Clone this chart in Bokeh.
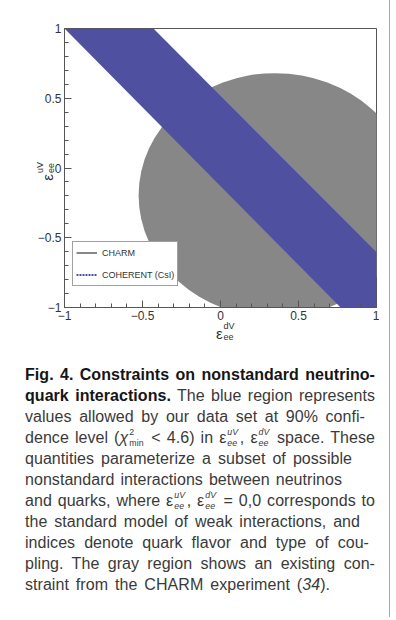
import math
from bokeh.plotting import figure
from bokeh.models import (Range1d, FixedTicker, CustomJSTickFormatter,
                          Legend, LegendItem, Div)
from bokeh.layouts import column
from bokeh.embed import file_html
from bokeh.resources import INLINE

# ---------------- data ----------------
# CHARM allowed region: a disc in (eps_dV, eps_uV) space
charm_center_dV = 0.35
charm_center_uV = -0.195
charm_radius = 0.875

# COHERENT (CsI) 90% CL band, clipped to the plotted window
coherent_band_dV = [-1.0, -0.43, 1.0, 1.0, 0.77]
coherent_band_uV = [1.0, 1.0, -0.604, -1.0, -1.0]

major_ticks = [-1.0, -0.5, 0.0, 0.5, 1.0]
minor_ticks = [-1.0, -0.9, -0.8, -0.7, -0.6, -0.5, -0.4, -0.3, -0.2, -0.1, 0.0,
               0.1, 0.2, 0.3, 0.4, 0.5, 0.6, 0.7, 0.8, 0.9, 1.0]
legend_labels = ["CHARM", "COHERENT (CsI)"]
x_title = ("dV", "ee")
y_title = ("uV", "ee")

FONT = "Liberation Sans"
GRAY = "#878787"
BLUE = "#5050A0"
AXC = "#555555"
TXT = "#333333"

W, H = 379, 330

p = figure(width=W, height=H, x_range=Range1d(-1, 1), y_range=Range1d(-1, 1),
           output_backend="svg", toolbar_location=None,
           min_border_left=64, min_border_right=W - 64 - 312,
           min_border_top=28, min_border_bottom=H - 28 - 279)
p.grid.visible = False
p.background_fill_color = "white"
p.border_fill_color = "white"
p.outline_line_color = AXC
p.outline_line_width = 1

p.ellipse(x=[charm_center_dV], y=[charm_center_uV], width=[2 * charm_radius],
          height=[2 * charm_radius], fill_color=GRAY, line_color=None)
p.patch(coherent_band_dV, coherent_band_uV, fill_color=BLUE, line_color=None)

fmt_code = "return (tick < 0 ? '\u2212' : '') + Math.abs(tick).toString();"
for ax in (p.xaxis[0], p.yaxis[0]):
    ax.ticker = FixedTicker(ticks=major_ticks, minor_ticks=minor_ticks)
    ax.formatter = CustomJSTickFormatter(code=fmt_code)
    ax.major_tick_in = 7
    ax.major_tick_out = 0
    ax.minor_tick_in = 4
    ax.minor_tick_out = 0
    ax.axis_line_color = AXC
    ax.major_tick_line_color = AXC
    ax.minor_tick_line_color = AXC
    ax.major_label_text_font = FONT
    ax.major_label_text_font_size = "12px"
    ax.major_label_text_color = TXT
    ax.major_label_standoff = 3

# legend with line samples (renderers hold no visible points)
nan = float("nan")
r1 = p.line(x=[nan], y=[nan], line_color="#888888", line_width=2)
r2 = p.line(x=[nan], y=[nan], line_color=BLUE, line_width=2, line_dash="2 1")
legend = Legend(items=[LegendItem(label=legend_labels[0], renderers=[r1]),
                       LegendItem(label=legend_labels[1], renderers=[r2])],
                location=(8, 21))
legend.border_line_color = "#444444"
legend.border_line_width = 1
legend.background_fill_color = "white"
legend.background_fill_alpha = 1
legend.padding = 3
legend.spacing = 7
legend.margin = 0
legend.glyph_width = 21
legend.glyph_height = 15
legend.label_height = 15
legend.label_standoff = 5
legend.label_text_font = FONT
legend.label_text_font_size = "9px"
legend.label_text_color = TXT
p.add_layout(legend)


# ---------------- HTML helpers ----------------
def T(s, style=""):
    return '<span style="%s">%s</span>' % (style, s)


def B(s):
    return T(s, "font-weight:bold;color:#151515;")


def ss(sup, sub, w, r, a, b, italic=True):
    """stacked super/subscript; r = size ratio, a = raise, b = drop (parent em)."""
    st = "font-style:italic;" if italic else ""
    k = 0.8465 * r
    top_sup = ((1 - a) - k) / r      # in the script's own em
    top_sub = ((1 + b) - k) / r
    return ('<span style="display:inline-block;position:relative;width:%.2fem;height:1em;margin-left:0.06em;">'
            '<span style="position:absolute;left:0;font-size:%.2fem;top:%.3fem;line-height:1;%s">%s</span>'
            '<span style="position:absolute;left:0;font-size:%.2fem;top:%.3fem;line-height:1;%s">%s</span>'
            '</span>') % (w, r, top_sup, st, sup, r, top_sub, st, sub)


# axis titles drawn as HTML over the figure's border area
def title_html(sup, sub):
    return T("\u03b5") + ss(sup, sub, 1.0, 0.6, 0.6, 0.1, italic=False)

lab_style = ("position:absolute;font-family:'Liberation Sans',Arial,sans-serif;font-size:15px;"
             "line-height:15px;color:#333;white-space:nowrap;")
overlay_html = (
    '<div style="position:relative;width:%dpx;height:%dpx;">' % (W, H)
    + '<div style="%sleft:211px;top:324px;">%s</div>' % (lab_style, title_html(*x_title))
    + ('<div style="%sleft:46px;top:168px;transform-origin:0px 12.7px;transform:rotate(-90deg);">%s</div>'
       % (lab_style, title_html(*y_title)))
    + '</div>'
)
overlay = Div(text=overlay_html, width=W, height=H,
              styles={"margin-top": "-%dpx" % H, "position": "relative", "z-index": "5",
                      "pointer-events": "none"})

# ---------------- caption ----------------
CR, CA, CB = 0.55, 0.5, 0.22
eps_u = T("\u03b5") + ss("uV", "ee", 0.78, CR, CA, CB)
eps_d = T("\u03b5") + ss("dV", "ee", 0.78, CR, CA, CB)
chi = T("\u03c7", "font-style:italic;") + ss("2", "min", 1.0, CR, CA, CB, italic=False)

caption_lines = [
    B("Fig. 4. Constraints on nonstandard neutrino-"),
    B("quark interactions.") + T(" The blue region represents"),
    T("values allowed by our data set at 90% confi-"),
    T("dence level (") + chi + T(" &lt; 4.6) in ") + eps_u + T(", ") + eps_d + T(" space. These"),
    T("quantities parameterize a subset of possible"),
    T("nonstandard interactions between neutrinos"),
    T("and quarks, where ") + eps_u + T(", ") + eps_d + T(" = 0,0 corresponds to"),
    T("the standard model of weak interactions, and"),
    T("indices denote quark flavor and type of cou-"),
    T("pling. The gray region shows an existing con-"),
    T("straint from the CHARM experiment (") + T("34", "font-style:italic;") + T(")."),
]
# line lengths (px) as typeset in the original column
caption_widths = [350, 350, 340, 350, 327, 317, 350, 335, 344, 350, 305]

rows = "".join(
    '<div style="width:%dpx;height:21px;text-align:justify;text-align-last:justify;">%s</div>'
    % (w, t) for t, w in zip(caption_lines, caption_widths))
html = ('<div style="font-family:\'Liberation Sans\',Arial,sans-serif;font-size:16px;'
        'line-height:21px;color:#3a3a3a;padding:24px 0 0 20px;letter-spacing:0.05px;">'
        + rows + "</div>")
div = Div(text=html, width=W, height=272)

layout = column(p, overlay, div, styles={"border-right": "1px solid #aaaaaa"})

with open("out.html", "w") as f:
    f.write(file_html(layout, INLINE))
